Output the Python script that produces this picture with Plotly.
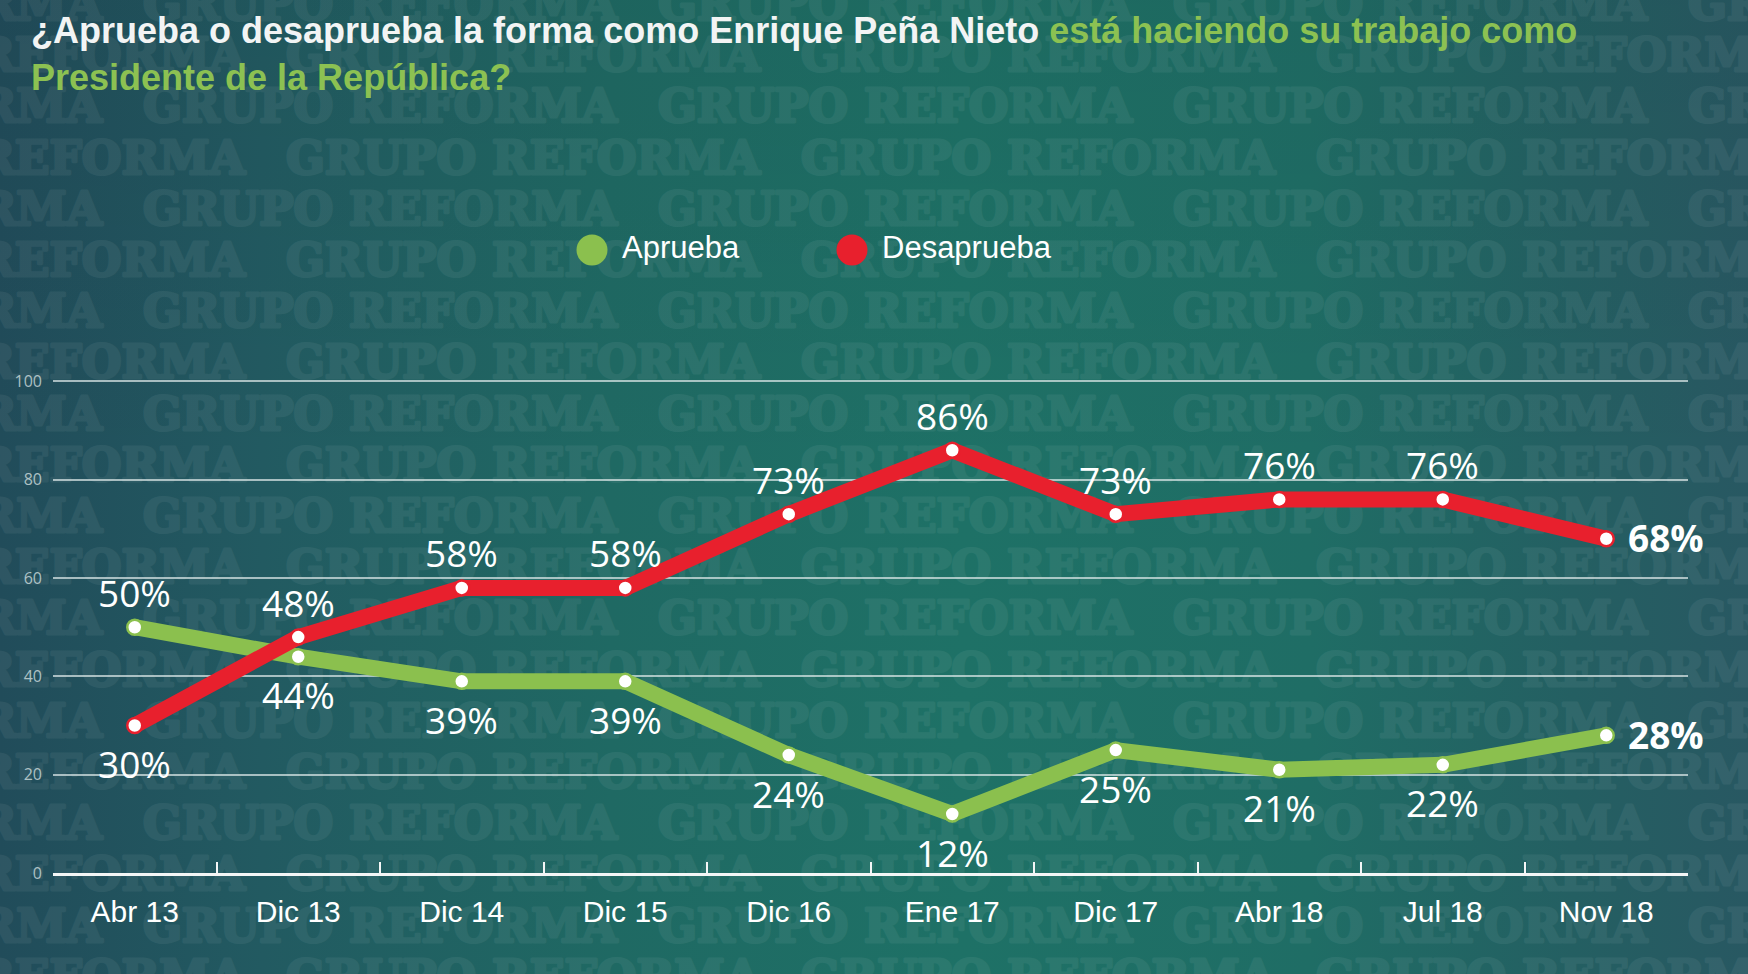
import base64
import plotly.graph_objects as go

categories = ["Abr 13", "Dic 13", "Dic 14", "Dic 15", "Dic 16", "Ene 17", "Dic 17", "Abr 18", "Jul 18", "Nov 18"]
aprueba = [50, 44, 39, 39, 24, 12, 25, 21, 22, 28]
desaprueba = [30, 48, 58, 58, 73, 86, 73, 76, 76, 68]
# label placement: 1 above, -1 below, 0 right (last point)
aprueba_pos = [1, -1, -1, -1, -1, -1, -1, -1, -1, 0]
desaprueba_pos = [-1, 1, 1, 1, 1, 1, 1, 1, 1, 0]
y_ticks = [0, 20, 40, 60, 80, 100]

GREEN = "#8bc04e"
RED = "#e8202d"
TITLE_GREEN = "#8cc152"

W, H = 1748, 974
ML, MR, MT, MB = 53, 60, 380, 101
PW, PH = W - ML - MR, H - MT - MB


def px_x(px):
    return (px - ML) / PW


def px_y(py):
    return (H - MB - py) / PH


fig = go.Figure()

for name, vals, col in [("Aprueba", aprueba, GREEN), ("Desaprueba", desaprueba, RED)]:
    fig.add_trace(go.Scatter(
        x=categories, y=vals, name=name, mode="lines+markers",
        line=dict(color=col, width=16),
        marker=dict(size=15, color="white", line=dict(color=col, width=2.5)),
        cliponaxis=False, showlegend=False,
    ))

annotations = []

# data labels
for vals, pos in [(aprueba, aprueba_pos), (desaprueba, desaprueba_pos)]:
    for c, v, p in zip(categories, vals, pos):
        if p == 0:
            annotations.append(dict(
                x=c, y=v, xref="x", yref="y", showarrow=False,
                text=f"<b>{v}%</b>", xanchor="left", yanchor="middle", xshift=20, yshift=1,
                font=dict(family="Open Sans", size=37, color="white"),
            ))
        else:
            annotations.append(dict(
                x=c, y=v, xref="x", yref="y", showarrow=False,
                text=f"{v}%", xanchor="center", yanchor="middle",
                yshift=35 if p > 0 else -38,
                font=dict(family="Open Sans", size=37, color="white"),
            ))

# title
annotations.append(dict(
    x=px_x(29), y=px_y(8), xref="paper", yref="paper", xanchor="left", yanchor="top",
    showarrow=False, align="left",
    text=("<b>¿Aprueba o desaprueba la forma como Enrique Peña Nieto "
          f"<span style='color:{TITLE_GREEN}'>está haciendo su trabajo como</span><br>"
          f"<span style='color:{TITLE_GREEN}'>Presidente de la República?</span></b>"),
    font=dict(family="Liberation Sans, Arial", size=36, color="#f2f4f4"),
))

# legend
shapes = []
for lx, col, label in [(592, GREEN, "Aprueba"), (852, RED, "Desaprueba")]:
    shapes.append(dict(
        type="circle", xref="paper", yref="paper", xsizemode="pixel", ysizemode="pixel",
        xanchor=px_x(lx), yanchor=px_y(250), x0=-15.5, x1=15.5, y0=-15.5, y1=15.5,
        fillcolor=col, line=dict(width=0), layer="above",
    ))
    annotations.append(dict(
        x=px_x(lx + 28), y=px_y(248), xref="paper", yref="paper", xanchor="left", yanchor="middle",
        showarrow=False, text=label,
        font=dict(family="Liberation Sans, Arial", size=31, color="white"),
    ))

# background (gradient with the faint watermark texture baked in, as in the original artwork)
wm = []
row_h = 51.2
for r in range(-4, 18):
    py = 157 + r * row_h
    if py < -30 or py > H + 40:
        continue
    start = 286 if r % 2 == 0 else 143
    for k in range(-1, 4):
        px = start + k * 515
        wm.append(f'<text x="{px}" y="{py:.1f}" dy="0.36em" textLength="474" lengthAdjust="spacingAndGlyphs">GRUPO REFORMA</text>')

svg = f'''<svg xmlns="http://www.w3.org/2000/svg" width="{W}" height="{H}" viewBox="0 0 {W} {H}" preserveAspectRatio="none">
<defs>
<linearGradient id="g" x1="0" y1="0" x2="1" y2="0">
<stop offset="0" stop-color="#214c5a"/>
<stop offset="0.15" stop-color="#225a61"/>
<stop offset="0.35" stop-color="#1f6963"/>
<stop offset="0.55" stop-color="#1e7166"/>
<stop offset="0.75" stop-color="#1f6d65"/>
<stop offset="0.9" stop-color="#245f62"/>
<stop offset="1" stop-color="#285862"/>
</linearGradient>
<linearGradient id="v" x1="0" y1="0" x2="0" y2="1">
<stop offset="0" stop-color="#000" stop-opacity="0.05"/>
<stop offset="0.5" stop-color="#000" stop-opacity="0"/>
<stop offset="1" stop-color="#000" stop-opacity="0.0"/>
</linearGradient>
</defs>
<rect width="{W}" height="{H}" fill="url(#g)"/>
<rect width="{W}" height="{H}" fill="url(#v)"/>
<g style="opacity:0.055" font-family="DejaVu Serif" font-weight="bold" font-size="46" fill="rgb(255,255,255)" stroke="rgb(255,255,255)" stroke-width="3" stroke-linejoin="round">
{''.join(wm)}
</g>
</svg>'''
src = "data:image/svg+xml;base64," + base64.b64encode(svg.encode()).decode()

fig.update_layout(
    width=W, height=H,
    margin=dict(l=ML, r=MR, t=MT, b=MB, pad=0),
    paper_bgcolor="#1f6964", plot_bgcolor="rgba(0,0,0,0)",
    showlegend=False,
    annotations=annotations,
    shapes=shapes,
    images=[dict(source=src, xref="paper", yref="paper", x=px_x(0), y=px_y(0),
                 sizex=W / PW, sizey=H / PH, xanchor="left", yanchor="top",
                 sizing="stretch", layer="below", opacity=1)],
    xaxis=dict(
        type="category", range=[-0.5, len(categories) - 0.5],
        showgrid=False, zeroline=False,
        showline=True, linecolor="#f4f6f6", linewidth=2.5,
        ticks="inside", tickson="boundaries", ticklen=11, tickwidth=1.5, tickcolor="#f4f6f6",
        tickfont=dict(family="Liberation Sans, Arial", size=30, color="white"),
        ticklabelstandoff=10,
    ),
    yaxis=dict(
        range=[0, 100.3], tickvals=y_ticks, showgrid=True,
        gridcolor="rgba(225,235,235,0.7)", gridwidth=2,
        zeroline=False, showline=False, ticks="",
        tickfont=dict(family="Open Sans", size=16, color="rgba(220,230,230,0.75)"),
        ticklabelstandoff=10,
    ),
)

fig.write_html("out.html")
